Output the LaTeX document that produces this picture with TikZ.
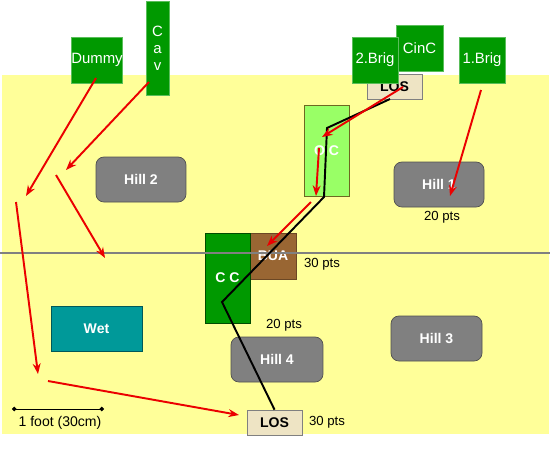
\documentclass[tikz,border=0pt]{standalone}
\usepackage{fontspec}
\setmainfont{Liberation Sans}
\usetikzlibrary{arrows.meta, positioning}
\definecolor{board}{RGB}{255,255,153}
\definecolor{unitgreen}{RGB}{0,153,0}
\definecolor{unitedge}{RGB}{90,190,90}
\definecolor{ocgreen}{RGB}{153,255,102}
\definecolor{hillgray}{RGB}{128,128,128}
\definecolor{hilledge}{RGB}{80,80,80}
\definecolor{wetteal}{RGB}{0,153,153}
\definecolor{buabrown}{RGB}{153,102,51}
\definecolor{losbeige}{RGB}{238,228,196}
\definecolor{movered}{RGB}{235,0,0}

\begin{document}
\begin{tikzpicture}[x=0.02cm, y=-0.02cm, >={Stealth[length=6pt,width=4.5pt]},
  unit/.style={draw=unitedge, fill=unitgreen, text=white, inner sep=0pt,
    font=\fontsize{8.5}{10}\selectfont},
  hill/.style={draw=hilledge, fill=hillgray, rounded corners=4.5pt, text=white,
    inner sep=0pt, minimum width=1.8cm, minimum height=0.9cm,
    font=\bfseries\fontsize{8}{9.6}\selectfont},
  losbox/.style={draw=gray, fill=losbeige, inner sep=0pt, minimum width=1.1cm,
    minimum height=0.5cm, font=\bfseries\fontsize{8}{9.6}\selectfont},
  pts/.style={inner sep=0pt, font=\fontsize{7.5}{9}\selectfont},
  move/.style={->, movered, line width=1.1pt}]
  \useasboundingbox (0,0) rectangle (550,457);
  % table top
  \fill[board] (2,75) rectangle (549,434);
  % hills
  \node[hill] (hill2) at (141,179.5) {Hill 2};
  \node[hill] (hill1) at (439,184.5) {Hill 1};
  \node[hill, minimum width=1.84cm] (hill4) at (277,359.5) {Hill 4};
  \node[hill, minimum width=1.82cm] (hill3) at (436.5,338.5) {Hill 3};
  % wet ground
  \node[draw=teal!70!black, fill=wetteal, text=white, inner sep=0pt,
    minimum width=1.82cm, minimum height=0.9cm,
    font=\bfseries\fontsize{8}{9.6}\selectfont] (wet) at (96.5,328.5) {Wet};
  % built-up area and the two command posts
  \node[draw=buabrown!70!black, fill=buabrown, text=white, inner sep=0pt,
    minimum width=0.92cm, minimum height=0.92cm,
    font=\bfseries\fontsize{8}{9.6}\selectfont] (bua) at (273,256) {BUA};
  \node[unit, draw=green!30!black, minimum width=0.9cm, minimum height=1.8cm,
    font=\bfseries\fontsize{8}{9.6}\selectfont] (cc) at (227.5,278) {C C};
  \node[unit, draw=olive!70!black, fill=ocgreen, minimum width=0.9cm,
    minimum height=1.82cm, font=\bfseries\fontsize{8}{9.6}\selectfont] (oc) at (326.5,150.5) {O C};
  % line of sight markers
  \node[losbox] (losA) at (274.5,422.5) {LOS};
  \node[losbox] (losB) at (394.5,86.5) {LOS};
  % units off table
  \node[unit, minimum size=0.92cm] (dummy) at (97,60) {Dummy};
  \node[unit, minimum width=0.46cm, minimum height=1.88cm, align=center,
    font=\fontsize{8.5}{9.6}\selectfont] (cav) at (157.5,48) {C\\a\\v};
  \node[unit, minimum width=0.94cm, minimum height=0.92cm] (cinc) at (419.5,48) {CinC};
  \node[unit, minimum size=0.92cm] (brig2) at (375,60) {2.Brig};
  \node[unit, minimum size=0.92cm] (brig1) at (482,60) {1.Brig};
  % centre line
  \draw[gray, line width=0.6pt] (0,253) -- (550,253);
  % points
  \node[pts] (pts1) at (442,217) {20 pts};
  \node[pts] (ptsbua) at (322,264) {30 pts};
  \node[pts] (ptscc) at (284,325) {20 pts};
  \node[pts] (ptslos) at (327,422) {30 pts};
  % scale bar
  \coordinate (footL) at (12,409);
  \coordinate (footR) at (104,409);
  \draw[{Circle[length=2.5pt]}-{Circle[length=2.5pt]}, line width=0.5pt] (footL) -- (footR);
  \node[pts, font=\fontsize{8}{9.6}\selectfont] (foot) at (60,423) {1 foot (30cm)};
  % line of sight
  \coordinate (bend1) at (222,302);
  \coordinate (bend2) at (324,197);
  \coordinate (bend3) at (327,128);
  \draw[line width=1.1pt] (losA.north) -- (bend1) -- (bend2) -- (bend3) -- (390,99);
  % moves
  \coordinate (mv1) at (26,196);
  \coordinate (mv2) at (66,170);
  \coordinate (mv3a) at (56,175);  \coordinate (mv3) at (105,258);
  \coordinate (mv4a) at (16,202);  \coordinate (mv4) at (38,374);
  \coordinate (mv5a) at (48,381);  \coordinate (mv5) at (239,415);
  \coordinate (mv6) at (450,196);
  \coordinate (mv7) at (322,137);
  \coordinate (mv8a) at (319,148); \coordinate (mv8) at (316,196);
  \coordinate (mv9a) at (311,202); \coordinate (mv9) at (267,246);
  \draw[move] (96,78) -- (mv1);
  \draw[move] (149,82) -- (mv2);
  \draw[move] (mv3a) -- (mv3);
  \draw[move] (mv4a) -- (mv4);
  \draw[move] (mv5a) -- (mv5);
  \draw[move] (481,90) -- (mv6);
  \draw[move] (403,87) -- (mv7);
  \draw[move] (mv8a) -- (mv8);
  \draw[move] (mv9a) -- (mv9);
\end{tikzpicture}
\end{document}
